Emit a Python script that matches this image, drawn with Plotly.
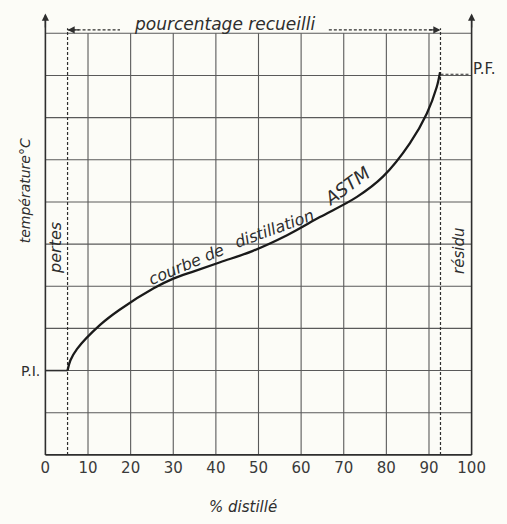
import plotly.graph_objects as go

# ASTM distillation curve: % distilled vs temperature (grid units, no scale given)
pct_distille = [5.2, 5.85, 7.4, 12.9, 17.5, 25.4, 30.0, 35.0, 41.0, 48.7,
                56.7, 64.4, 73.1, 79.2, 85.5, 89.5, 91.8, 92.6]
temperature = [2.0, 2.24, 2.51, 3.09, 3.45, 3.95, 4.18, 4.36, 4.57, 4.84,
               5.21, 5.64, 6.12, 6.60, 7.39, 8.10, 8.72, 9.08]

x_ticks = [0, 10, 20, 30, 40, 50, 60, 70, 80, 90, 100]
x_tick_labels = ["0", "10", "20", "30", "40", "50", "60", "70", "80", "90", "100"]
y_grid = [0, 1, 2, 3, 4, 5, 6, 7, 8, 9, 10]

pertes_limit = 5.2      # losses boundary (P.I. side)
residu_limit = 92.7     # residue boundary (P.F. side)
pi_temp = 2.0
pf_temp = 9.08

INK = "#2e2e2e"
GRID = "#5a5a5a"
FONT = "DejaVu Sans"

X_RANGE = [-1.5, 101.5]
Y_RANGE = [-0.05, 10.6]


def to_paper(x, y):
    """Data coordinates -> paper coordinates (for labels outside the axis ranges)."""
    return ((x - X_RANGE[0]) / (X_RANGE[1] - X_RANGE[0]),
            (y - Y_RANGE[0]) / (Y_RANGE[1] - Y_RANGE[0]))


fig = go.Figure()

# grid
gx, gy = [], []
for v in x_ticks[1:-1]:
    gx += [v, v, None]
    gy += [0, 10, None]
for h in y_grid[1:]:
    gx += [0, 100, None]
    gy += [h, h, None]
fig.add_trace(go.Scatter(x=gx, y=gy, mode="lines", line=dict(color=GRID, width=1.1),
                         hoverinfo="skip", showlegend=False))

# axes (arrow tips added as annotations)
fig.add_trace(go.Scatter(x=[0, 0, None, 100, 100, None, 0, 100],
                         y=[10.4, 0, None, 10.4, 0, None, 0, 0],
                         mode="lines", line=dict(color=INK, width=1.6),
                         hoverinfo="skip", showlegend=False))

# dashed limits: losses and residue
for xv in (pertes_limit, residu_limit):
    fig.add_trace(go.Scatter(x=[xv, xv], y=[0, 10.12], mode="lines",
                             line=dict(color=INK, width=1.2, dash="3px,2px"),
                             hoverinfo="skip", showlegend=False))

# "pourcentage recueilli" dimension line, broken around its label
fig.add_trace(go.Scatter(x=[pertes_limit, 17.5, None, 66.5, residu_limit - 1.5],
                         y=[10.08, 10.08, None, 10.08, 10.08], mode="lines",
                         line=dict(color=INK, width=1.1, dash="3px,2px"),
                         hoverinfo="skip", showlegend=False))

# initial point step and final point leader
fig.add_trace(go.Scatter(x=[0, pertes_limit], y=[pi_temp, pi_temp], mode="lines",
                         line=dict(color=INK, width=1.6), hoverinfo="skip", showlegend=False))
fig.add_trace(go.Scatter(x=[residu_limit, 99.5], y=[pf_temp - 0.05, pf_temp - 0.05], mode="lines",
                         line=dict(color=INK, width=1.1, dash="3px,2px"),
                         hoverinfo="skip", showlegend=False))

# distillation curve
fig.add_trace(go.Scatter(x=pct_distille, y=temperature, mode="lines",
                         line=dict(color="#1a1a1a", width=2.3, shape="spline", smoothing=1.0),
                         hoverinfo="skip", showlegend=False))

ann = []
# arrow tips on the axes and dimension line
for (hx, hy, tx, ty) in [(0, 10.47, 0, 10.1), (100, 10.47, 100, 10.1),
                         (residu_limit, 10.08, residu_limit - 3, 10.08),
                         (pertes_limit, 10.08, pertes_limit + 3, 10.08)]:
    ann.append(dict(x=hx, y=hy, ax=tx, ay=ty, xref="x", yref="y", axref="x", ayref="y",
                    text="", showarrow=True, arrowhead=2, arrowsize=1.1, arrowwidth=1.3,
                    arrowcolor=INK))


def label(text, x, y, size=14, angle=0, italic=True, xanchor="center"):
    t = f"<i>{text}</i>" if italic else text
    px, py = to_paper(x, y)
    ann.append(dict(x=px, y=py, xref="paper", yref="paper", text=t, showarrow=False,
                    textangle=angle, xanchor=xanchor, yanchor="middle",
                    font=dict(family=FONT, size=size, color=INK)))


label("pourcentage recueilli", 42.0, 10.22, size=17)
label("température°C", -4.7, 6.26, size=14, angle=-90)
label("pertes", 2.4, 4.9, size=16, angle=-90)
label("résidu", 97.2, 4.83, size=15, angle=-90)
label("courbe de", 33.0, 4.52, size=16, angle=-23)
label("distillation", 53.8, 5.36, size=16, angle=-20)
label("ASTM", 70.8, 6.40, size=18, angle=-36)
label("P.I.", -0.8, pi_temp, size=14, italic=False, xanchor="right")
label("P.F.", 99.8, pf_temp + 0.07, size=15, italic=False, xanchor="left")
label("% distillé", 46.4, -1.23, size=15)

fig.update_layout(
    width=507, height=524,
    margin=dict(l=38.6, r=28.6, t=7.7, b=66.9),
    paper_bgcolor="#fcfcf7", plot_bgcolor="#fcfcf7",
    showlegend=False,
    annotations=ann,
    xaxis=dict(range=X_RANGE, showgrid=False, zeroline=False, showline=False,
               tickmode="array", tickvals=x_ticks, ticktext=x_tick_labels, ticks="",
               tickfont=dict(family=FONT, size=15, color="#3a3a3a"), fixedrange=True),
    yaxis=dict(range=Y_RANGE, showgrid=False, zeroline=False, showline=False,
               showticklabels=False, ticks="", fixedrange=True),
)

fig.write_html("out.html")
